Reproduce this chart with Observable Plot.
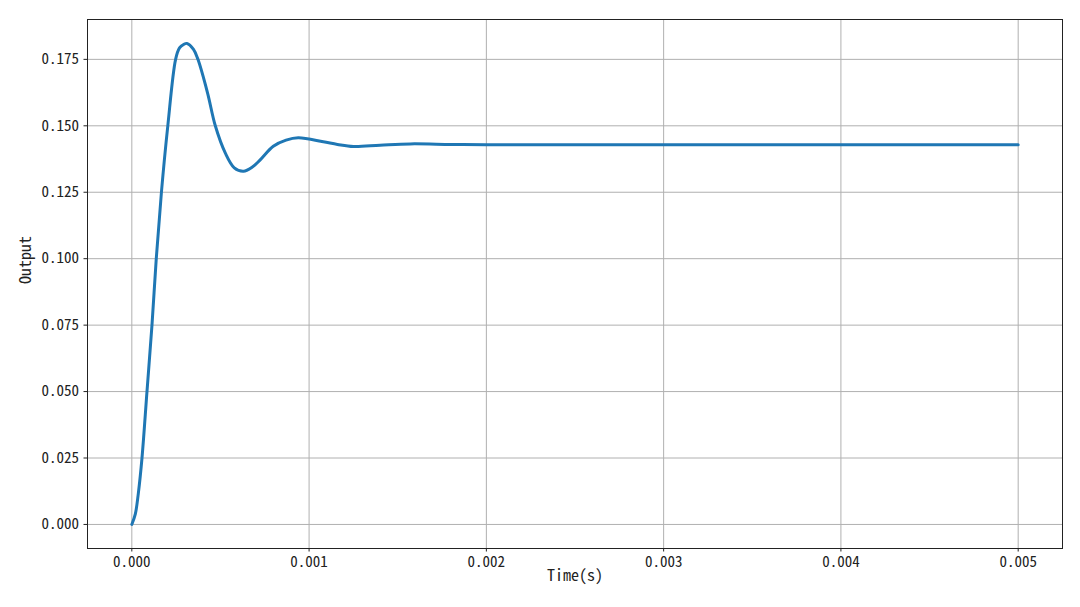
<!DOCTYPE html>
<html>
<head>
<meta charset="utf-8">
<script src="https://cdn.jsdelivr.net/npm/d3@7"></script>
<script src="https://cdn.jsdelivr.net/npm/@observablehq/plot@0.6"></script>
<style>
  html, body { margin: 0; padding: 0; background: #fff; }
</style>
</head>
<body>
<div id="chart"></div>
<script>
// Step response
const time = [0, 0.00002, 0.0000366, 0.0000574, 0.0000855, 0.0001137, 0.0001379, 0.000167, 0.000203, 0.000247, 0.000269, 0.000292, 0.000311, 0.000348, 0.000373, 0.000427, 0.000471, 0.000527, 0.000578, 0.00063, 0.00068, 0.000723, 0.000798, 0.00087, 0.000939, 0.00108, 0.00116, 0.00125, 0.0014, 0.00157, 0.0018, 0.002, 0.003, 0.004, 0.005];
const output = [0, 0.004, 0.0116, 0.025, 0.05, 0.075, 0.1, 0.125, 0.15, 0.175, 0.1793, 0.1806, 0.181, 0.1788, 0.175, 0.1624, 0.150, 0.1398, 0.1342, 0.1329, 0.1345, 0.1371, 0.1423, 0.1446, 0.1455, 0.1440, 0.1430, 0.1422, 0.1427, 0.1432, 0.1430, 0.1429, 0.1429, 0.1429, 0.1429];
const xTicks = [0, 0.001, 0.002, 0.003, 0.004, 0.005];
const yTicks = [0, 0.025, 0.05, 0.075, 0.1, 0.125, 0.15, 0.175];
const xLabel = "Time(s)";
const yLabel = "Output";

const data = time.map((t, i) => ({t, v: output[i]}));
const font = '"Noto Sans Mono CJK SC", "Noto Sans Mono", "DejaVu Sans Mono", monospace';

const chart = Plot.plot({
  width: 1080,
  height: 607,
  marginLeft: 87,
  marginRight: 18,
  marginTop: 19,
  marginBottom: 59,
  style: {fontFamily: font, fontSize: "15px", color: "#222", background: "#fff"},
  x: {domain: [-0.00025, 0.00525]},
  y: {domain: [-0.00905, 0.19]},
  marks: [
    Plot.gridX(xTicks, {stroke: "#b0b0b0", strokeOpacity: 1, strokeWidth: 1}),
    Plot.gridY(yTicks, {stroke: "#b0b0b0", strokeOpacity: 1, strokeWidth: 1}),
    Plot.line(data, {x: "t", y: "v", stroke: "#1f77b4", strokeWidth: 3, curve: "catmull-rom"}),
    Plot.frame({stroke: "#222", strokeWidth: 1}),
    Plot.axisX({ticks: xTicks, tickFormat: d => d.toFixed(3), tickSize: 3.5, tickPadding: 4, label: null, fontSize: 15}),
    Plot.axisY({ticks: yTicks, tickFormat: d => d.toFixed(3), tickSize: 3.5, tickPadding: 5, label: null, fontSize: 15}),
    Plot.text([xLabel], {frameAnchor: "bottom", dy: 32, text: d => d, fontSize: 16, fill: "#222"}),
    Plot.text([yLabel], {frameAnchor: "left", dx: -62, rotate: -90, text: d => d, fontSize: 16, fill: "#222"})
  ]
});
document.getElementById("chart").appendChild(chart);
</script>
</body>
</html>
